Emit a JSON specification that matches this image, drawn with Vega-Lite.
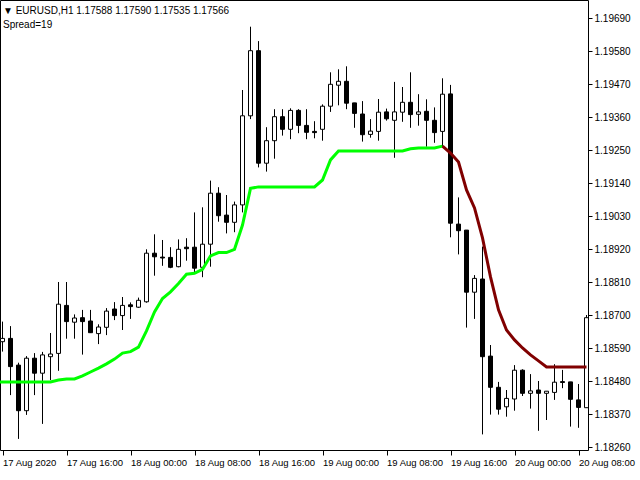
{
  "$schema": "https://vega.github.io/schema/vega-lite/v6.json",
  "width": 588,
  "height": 450,
  "autosize": {"type": "none"},
  "padding": {"left": 0, "top": 0, "right": 52, "bottom": 30},
  "background": "#ffffff",
  "view": {"stroke": "#000000", "strokeWidth": 1, "fill": "#ffffff"},
  "config": {
    "font": "Liberation Sans",
    "axis": {"labelFont": "Liberation Sans", "labelFontSize": 10, "labelColor": "#000000", "tickColor": "#000000", "grid": false, "domain": false, "title": null, "labelOverlap": false, "labelSeparation": 0, "labelBound": false, "labelFlush": false},
    "axisY": {"labelOverlap": false, "tickCount": 14},
    "scale": {"continuousPadding": 0}
  },
  "title": {
    "text": ["▼ EURUSD,H1  1.17588 1.17590 1.17535 1.17566", "Spread=19"],
    "anchor": "start",
    "frame": "group",
    "orient": "top",
    "baseline": "top",
    "offset": -30,
    "dx": 3,
    "font": "Liberation Sans",
    "fontSize": 10,
    "fontWeight": "normal",
    "color": "#000000",
    "lineHeight": 14
  },
  "datasets": {
    "bars": [
      {"i":0,"o":1.18611,"h":1.18678,"l":1.18578,"c":1.18622},
      {"i":1,"o":1.18622,"h":1.18663,"l":1.18433,"c":1.18528},
      {"i":2,"o":1.18533,"h":1.18541,"l":1.18287,"c":1.18381},
      {"i":3,"o":1.18381,"h":1.18563,"l":1.18367,"c":1.18556},
      {"i":4,"o":1.18556,"h":1.18573,"l":1.18433,"c":1.18506},
      {"i":5,"o":1.18506,"h":1.18577,"l":1.18337,"c":1.18567},
      {"i":6,"o":1.18561,"h":1.18640,"l":1.18483,"c":1.18570},
      {"i":7,"o":1.18572,"h":1.18810,"l":1.18514,"c":1.18736},
      {"i":8,"o":1.18732,"h":1.18810,"l":1.18621,"c":1.18678},
      {"i":9,"o":1.18676,"h":1.18702,"l":1.18621,"c":1.18690},
      {"i":10,"o":1.18691,"h":1.18717,"l":1.18568,"c":1.18678},
      {"i":11,"o":1.18680,"h":1.18717,"l":1.18640,"c":1.18641},
      {"i":12,"o":1.18638,"h":1.18669,"l":1.18603,"c":1.18660},
      {"i":13,"o":1.18659,"h":1.18723,"l":1.18633,"c":1.18713},
      {"i":14,"o":1.18720,"h":1.18743,"l":1.18683,"c":1.18698},
      {"i":15,"o":1.18698,"h":1.18760,"l":1.18650,"c":1.18732},
      {"i":16,"o":1.18734,"h":1.18742,"l":1.18687,"c":1.18728},
      {"i":17,"o":1.18726,"h":1.18758,"l":1.18724,"c":1.18749},
      {"i":18,"o":1.18744,"h":1.18919,"l":1.18741,"c":1.18906},
      {"i":19,"o":1.18906,"h":1.18969,"l":1.18831,"c":1.18894},
      {"i":20,"o":1.18893,"h":1.18950,"l":1.18864,"c":1.18890},
      {"i":21,"o":1.18892,"h":1.18926,"l":1.18856,"c":1.18859},
      {"i":22,"o":1.18861,"h":1.18952,"l":1.18859,"c":1.18919},
      {"i":23,"o":1.18926,"h":1.18956,"l":1.18881,"c":1.18921},
      {"i":24,"o":1.18926,"h":1.19042,"l":1.18842,"c":1.18856},
      {"i":25,"o":1.18859,"h":1.19059,"l":1.18826,"c":1.18936},
      {"i":26,"o":1.18936,"h":1.19148,"l":1.18861,"c":1.19106},
      {"i":27,"o":1.19106,"h":1.19126,"l":1.19011,"c":1.19031},
      {"i":28,"o":1.19033,"h":1.19100,"l":1.18972,"c":1.19009},
      {"i":29,"o":1.19009,"h":1.19078,"l":1.18976,"c":1.19067},
      {"i":30,"o":1.19067,"h":1.19450,"l":1.19042,"c":1.19364},
      {"i":31,"o":1.19364,"h":1.19661,"l":1.19353,"c":1.19581},
      {"i":32,"o":1.19581,"h":1.19613,"l":1.19192,"c":1.19206},
      {"i":33,"o":1.19206,"h":1.19326,"l":1.19178,"c":1.19281},
      {"i":34,"o":1.19281,"h":1.19386,"l":1.19221,"c":1.19361},
      {"i":35,"o":1.19361,"h":1.19386,"l":1.19298,"c":1.19319},
      {"i":36,"o":1.19319,"h":1.19389,"l":1.19286,"c":1.19382},
      {"i":37,"o":1.19382,"h":1.19386,"l":1.19306,"c":1.19332},
      {"i":38,"o":1.19332,"h":1.19386,"l":1.19286,"c":1.19309},
      {"i":39,"o":1.19312,"h":1.19346,"l":1.19289,"c":1.19308},
      {"i":40,"o":1.19319,"h":1.19402,"l":1.19281,"c":1.19396},
      {"i":41,"o":1.19396,"h":1.19509,"l":1.19377,"c":1.19469},
      {"i":42,"o":1.19466,"h":1.19519,"l":1.19399,"c":1.19479},
      {"i":43,"o":1.19479,"h":1.19529,"l":1.19386,"c":1.19406},
      {"i":44,"o":1.19407,"h":1.19407,"l":1.19324,"c":1.19372},
      {"i":45,"o":1.19370,"h":1.19413,"l":1.19278,"c":1.19301},
      {"i":46,"o":1.19302,"h":1.19353,"l":1.19291,"c":1.19313},
      {"i":47,"o":1.19312,"h":1.19420,"l":1.19281,"c":1.19376},
      {"i":48,"o":1.19377,"h":1.19388,"l":1.19348,"c":1.19354},
      {"i":49,"o":1.19349,"h":1.19477,"l":1.19224,"c":1.19377},
      {"i":50,"o":1.19376,"h":1.19460,"l":1.19344,"c":1.19409},
      {"i":51,"o":1.19409,"h":1.19509,"l":1.19324,"c":1.19368},
      {"i":52,"o":1.19369,"h":1.19436,"l":1.19331,"c":1.19377},
      {"i":53,"o":1.19379,"h":1.19419,"l":1.19261,"c":1.19349},
      {"i":54,"o":1.19349,"h":1.19392,"l":1.19274,"c":1.19308},
      {"i":55,"o":1.19312,"h":1.19489,"l":1.19261,"c":1.19436},
      {"i":56,"o":1.19437,"h":1.19467,"l":1.18959,"c":1.19006},
      {"i":57,"o":1.19003,"h":1.19092,"l":1.18902,"c":1.18981},
      {"i":58,"o":1.18983,"h":1.18983,"l":1.18658,"c":1.18776},
      {"i":59,"o":1.18776,"h":1.18833,"l":1.18687,"c":1.18822},
      {"i":60,"o":1.18820,"h":1.18928,"l":1.18302,"c":1.18561},
      {"i":61,"o":1.18563,"h":1.18600,"l":1.18368,"c":1.18459},
      {"i":62,"o":1.18459,"h":1.18477,"l":1.18368,"c":1.18386},
      {"i":63,"o":1.18394,"h":1.18450,"l":1.18361,"c":1.18422},
      {"i":64,"o":1.18420,"h":1.18533,"l":1.18381,"c":1.18516},
      {"i":65,"o":1.18516,"h":1.18519,"l":1.18430,"c":1.18439},
      {"i":66,"o":1.18439,"h":1.18503,"l":1.18388,"c":1.18447},
      {"i":67,"o":1.18450,"h":1.18480,"l":1.18314,"c":1.18439},
      {"i":68,"o":1.18439,"h":1.18446,"l":1.18350,"c":1.18446},
      {"i":69,"o":1.18442,"h":1.18536,"l":1.18417,"c":1.18476},
      {"i":70,"o":1.18478,"h":1.18517,"l":1.18456,"c":1.18475},
      {"i":71,"o":1.18477,"h":1.18477,"l":1.18328,"c":1.18419},
      {"i":72,"o":1.18417,"h":1.18470,"l":1.18324,"c":1.18392},
      {"i":73,"o":1.18391,"h":1.18700,"l":1.18391,"c":1.18691}
    ],
    "ma": [
      {"i":-1,"v":1.18477,"s":"up"},
      {"i":0,"v":1.18477,"s":"up"},{"i":1,"v":1.18477,"s":"up"},{"i":2,"v":1.18477,"s":"up"},
      {"i":3,"v":1.18477,"s":"up"},{"i":4,"v":1.18477,"s":"up"},{"i":5,"v":1.18477,"s":"up"},
      {"i":6,"v":1.18477,"s":"up"},{"i":7,"v":1.18483,"s":"up"},{"i":8,"v":1.18487,"s":"up"},
      {"i":9,"v":1.18487,"s":"up"},{"i":10,"v":1.18497,"s":"up"},{"i":11,"v":1.18510,"s":"up"},
      {"i":12,"v":1.18523,"s":"up"},{"i":13,"v":1.18537,"s":"up"},{"i":14,"v":1.18553,"s":"up"},
      {"i":15,"v":1.18573,"s":"up"},{"i":16,"v":1.18578,"s":"up"},{"i":17,"v":1.18593,"s":"up"},
      {"i":18,"v":1.18647,"s":"up"},{"i":19,"v":1.18710,"s":"up"},{"i":20,"v":1.18755,"s":"up"},
      {"i":21,"v":1.18777,"s":"up"},{"i":22,"v":1.18805,"s":"up"},{"i":23,"v":1.18836,"s":"up"},
      {"i":24,"v":1.18839,"s":"up"},{"i":25,"v":1.18852,"s":"up"},{"i":26,"v":1.18897,"s":"up"},
      {"i":27,"v":1.18908,"s":"up"},{"i":28,"v":1.18908,"s":"up"},{"i":29,"v":1.18919,"s":"up"},
      {"i":30,"v":1.19000,"s":"up"},{"i":31,"v":1.19122,"s":"up"},{"i":32,"v":1.19127,"s":"up"},
      {"i":33,"v":1.19127,"s":"up"},{"i":34,"v":1.19127,"s":"up"},{"i":35,"v":1.19127,"s":"up"},
      {"i":36,"v":1.19127,"s":"up"},{"i":37,"v":1.19127,"s":"up"},{"i":38,"v":1.19127,"s":"up"},
      {"i":39,"v":1.19127,"s":"up"},{"i":40,"v":1.19150,"s":"up"},{"i":41,"v":1.19217,"s":"up"},
      {"i":42,"v":1.19247,"s":"up"},{"i":43,"v":1.19247,"s":"up"},{"i":44,"v":1.19247,"s":"up"},
      {"i":45,"v":1.19247,"s":"up"},{"i":46,"v":1.19247,"s":"up"},{"i":47,"v":1.19247,"s":"up"},
      {"i":48,"v":1.19247,"s":"up"},{"i":49,"v":1.19247,"s":"up"},{"i":50,"v":1.19247,"s":"up"},
      {"i":51,"v":1.19254,"s":"up"},{"i":52,"v":1.19257,"s":"up"},{"i":53,"v":1.19257,"s":"up"},
      {"i":54,"v":1.19257,"s":"up"},{"i":55,"v":1.19263,"s":"up"},
      {"i":55,"v":1.19263,"s":"down"},{"i":56,"v":1.19240,"s":"down"},{"i":57,"v":1.19210,"s":"down"},
      {"i":58,"v":1.19117,"s":"down"},{"i":59,"v":1.19057,"s":"down"},{"i":60,"v":1.18957,"s":"down"},
      {"i":61,"v":1.18827,"s":"down"},{"i":62,"v":1.18717,"s":"down"},{"i":63,"v":1.18650,"s":"down"},
      {"i":64,"v":1.18617,"s":"down"},{"i":65,"v":1.18590,"s":"down"},{"i":66,"v":1.18567,"s":"down"},
      {"i":67,"v":1.18547,"s":"down"},{"i":68,"v":1.18527,"s":"down"},{"i":69,"v":1.18527,"s":"down"},
      {"i":70,"v":1.18527,"s":"down"},{"i":71,"v":1.18527,"s":"down"},{"i":72,"v":1.18527,"s":"down"},
      {"i":73,"v":1.18527,"s":"down"}
    ]
  },
  "layer": [
    {
      "data": {"name": "bars"},
      "mark": {"type": "rule", "color": "#000000", "strokeWidth": 1, "clip": true},
      "encoding": {
        "x": {"field": "i", "type": "quantitative", "scale": {"domain": [-0.3125, 73.1875], "nice": false, "zero": false, "padding": 0},
          "axis": {"orient": "bottom", "values": [0, 8, 16, 24, 32, 40, 48, 56, 64, 72], "tickSize": 5, "labelAlign": "left", "labelPadding": 2, "labelFontSize": 9.5, "labelOverlap": false, "labelBound": false, "labelFlush": false,
            "labelExpr": "datum.value == 0 ? '17 Aug 2020' : (17 + floor((datum.value + 8) / 24)) + ' Aug ' + (((datum.value + 8) % 24) < 10 ? '0' : '') + ((datum.value + 8) % 24) + ':00'"}},
        "y": {"field": "l", "type": "quantitative", "scale": {"domain": [1.1825, 1.1975], "nice": false, "zero": false, "padding": 0},
          "axis": {"orient": "right", "values": [1.1826, 1.1837, 1.1848, 1.1859, 1.187, 1.1881, 1.1892, 1.1903, 1.1914, 1.1925, 1.1936, 1.1947, 1.1958, 1.1969], "format": ".5f", "tickSize": 4, "labelPadding": 2, "labelAlign": "left", "labelBaseline": "middle", "labelOverlap": false, "labelBound": false, "labelFlush": false, "labelSeparation": 0}},
        "y2": {"field": "h"}
      }
    },
    {
      "data": {"name": "bars"},
      "mark": {"type": "bar", "size": 4, "stroke": "#000000", "strokeWidth": 1, "clip": true},
      "encoding": {
        "x": {"field": "i", "type": "quantitative"},
        "y": {"field": "o", "type": "quantitative"},
        "y2": {"field": "c"},
        "fill": {"condition": {"test": "datum.c >= datum.o", "value": "#ffffff"}, "value": "#000000"}
      }
    },
    {
      "data": {"name": "ma"},
      "mark": {"type": "line", "strokeWidth": 3, "clip": true, "strokeCap": "butt"},
      "encoding": {
        "x": {"field": "i", "type": "quantitative"},
        "y": {"field": "v", "type": "quantitative"},
        "color": {"field": "s", "type": "nominal", "scale": {"domain": ["up", "down"], "range": ["#00ff00", "#800000"]}, "legend": null},
        "order": {"field": "i", "type": "quantitative"}
      }
    }
  ]
}
